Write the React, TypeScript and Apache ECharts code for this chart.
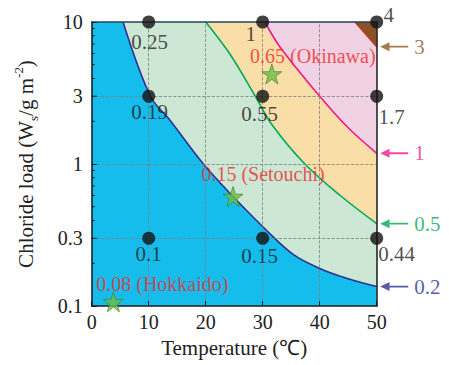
import React, { useEffect, useRef } from "react";
import * as echarts from "echarts";

// ---- data ----
const curve02T = [5.5, 10.3, 13.7, 19.6, 24.8, 30.7, 35.4, 40, 44.7, 50];
const curve02W = [10, 3, 2.04, 1.0, 0.59, 0.34, 0.23, 0.184, 0.157, 0.137];
const curve05T = [20, 24.3, 28.7, 31.6, 37.4, 43.6, 50];
const curve05W = [10, 5.9, 3, 1.9, 1, 0.6, 0.38];
const curve1T = [30.4, 33, 40, 45, 50];
const curve1W = [10, 6.7, 3, 1.8, 1.19];
const curve3T = [46.2, 50];
const curve3W = [10, 6.7];

const pointT = [10, 30, 50, 10, 30, 50, 10, 30, 50];
const pointW = [10, 10, 10, 3, 3, 3, 0.3, 0.3, 0.3];
const pointText = ["0.25", "1", "4", "0.19", "0.55", "1.7", "0.1", "0.15", "0.44"];

const siteT = [31.6, 24.8, 3.8];
const siteW = [4.3, 0.59, 0.107];
const siteText = ["0.65 (Okinawa)", "0.15 (Setouchi)", "0.08 (Hokkaido)"];

const contourLabels = ["3", "1", "0.5", "0.2"];
const contourEndW = [6.7, 1.19, 0.38, 0.137];

const xGridValues = [10, 20, 30, 40];
const yGridValues = [0.3, 1, 3];
const yExtraLabels = ["0.3", "", "3"];
const yMinorTicks = [0.2, 0.3, 0.4, 0.5, 0.6, 0.7, 0.8, 0.9, 2, 3, 4, 5, 6, 7, 8, 9];
const yLongTicks = [0.3, 3];

// ---- styles ----
const FONT = "Liberation Serif, Times New Roman, serif";
const pointLabelOffsets = [
  [1, 20], [-12, 12], [12, -7],
  [1, 16], [-3, 18], [15, 21],
  [0, 16], [-3, 18], [20, 16],
];
const siteLabelOffsets = [[41, -18], [30, -23], [49, -18]];
const contourColors = ["#8B5A2B", "#EC1C8C", "#00A859", "#2E3192"];
const STAR =
  "path://M50,0 L61.8,35.1 L98.5,35.1 L68.8,56.7 L79.4,91.9 L50,70 L20.6,91.9 L31.2,56.7 L1.5,35.1 L38.2,35.1 Z";
const ARROW = "path://M0,5 L10,0 L10,4 L30,4 L30,6 L10,6 L10,10 Z";

function zip(t: number[], w: number[]) {
  return t.map((v, i) => [v, w[i]]);
}

function areaSeries(t: number[], w: number[], line: string, fill: string) {
  return {
    type: "line",
    data: zip(t, w),
    smooth: 0.35,
    symbol: "none",
    lineStyle: { color: line, width: 1.6 },
    areaStyle: { color: fill, opacity: 1, origin: "end" },
    z: 2,
    silent: true,
  };
}

export default function App() {
  const ref = useRef<HTMLDivElement>(null);
  useEffect(() => {
    if (!ref.current) return;
    const chart = echarts.init(ref.current, null, { renderer: "svg" });
    const axisLineStyle = { color: "#1a1a1a", width: 1.5 };
    const option: any = {
      animation: false,
      backgroundColor: "#ffffff",
      grid: {
        left: 91.7,
        right: 72.3,
        top: 22,
        bottom: 59,
        show: true,
        backgroundColor: "#15BDED",
        borderWidth: 0,
        outerBoundsMode: "none",
      },
      xAxis: [
        {
          type: "value",
          min: 0,
          max: 50,
          interval: 10,
          z: 10,
          axisLine: { show: true, lineStyle: axisLineStyle },
          axisTick: { show: true, inside: true, length: 5, lineStyle: { color: "#1a1a1a" } },
          axisLabel: { fontFamily: FONT, fontSize: 20, color: "#222", margin: 6 },
          splitLine: { show: false },
          name: "Temperature (℃)",
          nameLocation: "middle",
          nameGap: 31,
          nameTextStyle: { fontFamily: FONT, fontSize: 21, color: "#222" },
        },
        {
          type: "value",
          position: "top",
          min: 0,
          max: 50,
          z: 10,
          axisLine: { show: true, onZero: false, lineStyle: { color: "#20445a", width: 1.5 } },
          axisTick: { show: false },
          axisLabel: { show: false },
          splitLine: { show: false },
        },
      ],
      yAxis: [
        {
          type: "log",
          logBase: 10,
          min: 0.1,
          max: 10,
          z: 10,
          axisLine: { show: true, lineStyle: axisLineStyle },
          axisTick: { show: true, inside: true, length: 5, lineStyle: { color: "#1a1a1a" } },
          axisLabel: {
            fontFamily: FONT,
            fontSize: 20,
            color: "#222",
            margin: 9,
            formatter: (v: number) => String(Number(v.toPrecision(3))),
          },
          splitLine: { show: false },
          name: "{n|Chloride load (W}{sub|s}{n|/g m}{sup|-2}{n|)}",
          nameLocation: "middle",
          nameGap: 52,
          nameTextStyle: {
            fontFamily: FONT,
            fontSize: 21,
            color: "#222",
            rich: {
              n: { fontFamily: FONT, fontSize: 21, color: "#222", lineHeight: 28 },
              sub: { fontFamily: FONT, fontSize: 13, color: "#222", verticalAlign: "bottom", lineHeight: 28 },
              sup: { fontFamily: FONT, fontSize: 13, color: "#222", verticalAlign: "top", lineHeight: 28 },
            },
          },
        },
        {
          type: "log",
          logBase: 10,
          min: 0.1,
          max: 10,
          position: "right",
          z: 10,
          axisLine: { show: true, onZero: false, lineStyle: axisLineStyle },
          axisTick: { show: false },
          axisLabel: { show: false },
          splitLine: { show: false },
        },
      ],
      series: [
        areaSeries(curve02T, curve02W, "#2E3192", "#CDE7D5"),
        areaSeries(curve05T, curve05W, "#00A859", "#F9DEA8"),
        areaSeries(curve1T, curve1W, "#EC1C8C", "#F1D1E4"),
        areaSeries(curve3T, curve3W, "#C0392B", "#8C5225"),
        {
          type: "custom",
          z: 12,
          silent: true,
          clip: false,
          data: yMinorTicks.map((w) => [0, w]),
          renderItem: (params: any, api: any) => {
            const w = api.value(1);
            const p = api.coord([0, w]);
            const len = yLongTicks.indexOf(w) >= 0 ? 5 : 3;
            return {
              type: "line",
              shape: { x1: p[0], y1: p[1], x2: p[0] + len, y2: p[1] },
              style: { stroke: "#1a1a1a", lineWidth: 1 },
            };
          },
        },
        {
          type: "scatter",
          z: 14,
          clip: false,
          silent: true,
          symbol: "circle",
          symbolSize: 13,
          itemStyle: { color: "#111" },
          data: pointT.map((t, i) => ({
            value: [t, pointW[i]],
            label: { offset: pointLabelOffsets[i] },
          })),
          label: {
            show: true,
            position: "inside",
            fontFamily: FONT,
            fontSize: 21,
            color: "#222",
            formatter: (p: any) => pointText[p.dataIndex],
          },
          markLine: {
            silent: true,
            symbol: ["none", "none"],
            z: 6,
            lineStyle: { type: "dashed", color: "#7d7d7d", width: 0.8 },
            label: { show: false },
            data: [
              ...xGridValues.map((x) => ({ xAxis: x })),
              ...yGridValues.map((y, i) => ({
                yAxis: y,
                label: {
                  show: yExtraLabels[i] !== "",
                  position: "start",
                  distance: 9,
                  formatter: yExtraLabels[i],
                  fontFamily: FONT,
                  fontSize: 20,
                  color: "#222",
                },
              })),
            ],
          },
        },
        {
          type: "scatter",
          z: 15,
          clip: false,
          silent: true,
          symbol: STAR,
          symbolSize: 20,
          itemStyle: { color: "#6CBE45", borderColor: "#3d7a2c", borderWidth: 0.8 },
          data: siteT.map((t, i) => ({
            value: [t, siteW[i]],
            label: { offset: siteLabelOffsets[i] },
          })),
          label: {
            show: true,
            position: "inside",
            fontFamily: FONT,
            fontSize: 20,
            color: "#EE2B2B",
            formatter: (p: any) => siteText[p.dataIndex],
          },
        },
        {
          type: "scatter",
          z: 15,
          clip: false,
          silent: true,
          symbol: ARROW,
          symbolSize: [28, 9],
          symbolOffset: [17.5, 0],
          data: contourEndW.map((w, i) => ({
            value: [50, w],
            itemStyle: { color: contourColors[i] },
            label: { color: contourColors[i] },
          })),
          label: {
            show: true,
            position: "right",
            distance: 6,
            fontFamily: FONT,
            fontSize: 21,
            formatter: (p: any) => contourLabels[p.dataIndex],
          },
        },
      ],
    };
    chart.setOption(option);
    return () => chart.dispose();
  }, []);
  return (
    <div
      ref={ref}
      style={{ position: "fixed", left: 0, top: 0, width: 449, height: 365, background: "#fff" }}
    />
  );
}
